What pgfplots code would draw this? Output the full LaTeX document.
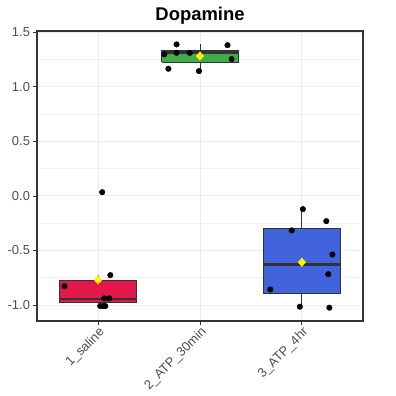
\documentclass[border=0pt]{standalone}
\usepackage{fontspec}
\setmainfont{Liberation Sans}
\usepackage{pgfplots}
\pgfplotsset{compat=1.18}
\definecolor{salred}{HTML}{E2184A}
\definecolor{atpgreen}{HTML}{3FAE49}
\definecolor{atpblue}{HTML}{4163DC}
\definecolor{boxdark}{HTML}{333333}
\definecolor{ticktxt}{HTML}{4D4D4D}
\definecolor{gridmaj}{HTML}{EBEBEB}
\definecolor{meanyel}{HTML}{FFF200}
\begin{document}
\begin{tikzpicture}
\begin{axis}[
  scale only axis, width=326bp, height=290bp,
  xmin=0.4, xmax=3.6, ymin=-1.146, ymax=1.511,
  xtick={1,2,3}, xticklabels={1\_saline,2\_ATP\_30min,3\_ATP\_4hr},
  ytick={-1,-0.5,0,0.5,1,1.5}, yticklabels={-1.0,-0.5,0.0,0.5,1.0,1.5},
  minor ytick={-0.75,-0.25,0.25,0.75,1.25},
  tick pos=left,
  xmajorgrids, ymajorgrids, yminorgrids,
  major grid style={draw=gridmaj, line width=1bp},
  minor grid style={draw=gridmaj!70!white, line width=0.6bp},
  tick align=outside, major tick length=3.5bp, minor tick length=0pt,
  tick style={draw=boxdark, line width=0.8bp},
  axis line style={draw=boxdark, line width=1.1bp},
  ticklabel style={font=\fontsize{13}{15}\selectfont, text=ticktxt},
  x tick label style={rotate=45, anchor=north east, inner sep=1pt},
  title={Dopamine},
  title style={font=\fontsize{18.5}{21}\selectfont\bfseries, yshift=-3bp},
  clip=false,
]
% whiskers
\addplot[draw=boxdark, line width=1bp, forget plot] coordinates {(1,-1.01) (1,-0.979)};
\addplot[draw=boxdark, line width=1bp, forget plot] coordinates {(1,-0.778) (1,-0.726)};
\addplot[draw=boxdark, line width=1bp, forget plot] coordinates {(2,1.144) (2,1.226)};
\addplot[draw=boxdark, line width=1bp, forget plot] coordinates {(2,1.335) (2,1.388)};
\addplot[draw=boxdark, line width=1bp, forget plot] coordinates {(3,-1.015) (3,-0.897)};
\addplot[draw=boxdark, line width=1bp, forget plot] coordinates {(3,-0.295) (3,-0.121)};
% boxes (quartiles)
\addplot[fill=salred, draw=boxdark, line width=1bp] coordinates
  {(0.625,-0.979) (1.375,-0.979) (1.375,-0.778) (0.625,-0.778) (0.625,-0.979)};
\addplot[fill=atpgreen, draw=boxdark, line width=1bp] coordinates
  {(1.625,1.226) (2.375,1.226) (2.375,1.335) (1.625,1.335) (1.625,1.226)};
\addplot[fill=atpblue, draw=boxdark, line width=1bp] coordinates
  {(2.625,-0.897) (3.375,-0.897) (3.375,-0.295) (2.625,-0.295) (2.625,-0.897)};
% medians
\addplot[draw=boxdark, line width=2.6bp] coordinates {(0.625,-0.945) (1.375,-0.945)};
\addplot[draw=boxdark, line width=2.6bp] coordinates {(1.625,1.312) (2.375,1.312)};
\addplot[draw=boxdark, line width=2.6bp] coordinates {(2.625,-0.626) (3.375,-0.626)};
% jittered points
\addplot[only marks, mark=*, mark size=2.8bp, black] coordinates {
  (0.67,-0.827) (1.04,0.034) (1.12,-0.726) (1.06,-0.939) (1.11,-0.939)
  (1.02,-1.009) (1.05,-1.009) (1.07,-1.009)
  (1.65,1.297) (1.69,1.165) (1.77,1.388) (1.77,1.311) (1.90,1.311)
  (1.99,1.144) (2.27,1.381) (2.31,1.254)
  (3.01,-0.121) (3.24,-0.231) (2.90,-0.316) (3.30,-0.537) (3.26,-0.717)
  (2.69,-0.857) (2.98,-1.015) (3.27,-1.024)
};
% means
\addplot[only marks, mark=diamond*, mark size=4.2bp, mark options={fill=meanyel, draw=meanyel, xscale=1.2}]
  coordinates {(1,-0.77) (2,1.281) (3,-0.608)};
\end{axis}
\pgfresetboundingbox
\path[use as bounding box] (-37bp,-75bp) rectangle (359bp,321bp);
\end{tikzpicture}
\end{document}
